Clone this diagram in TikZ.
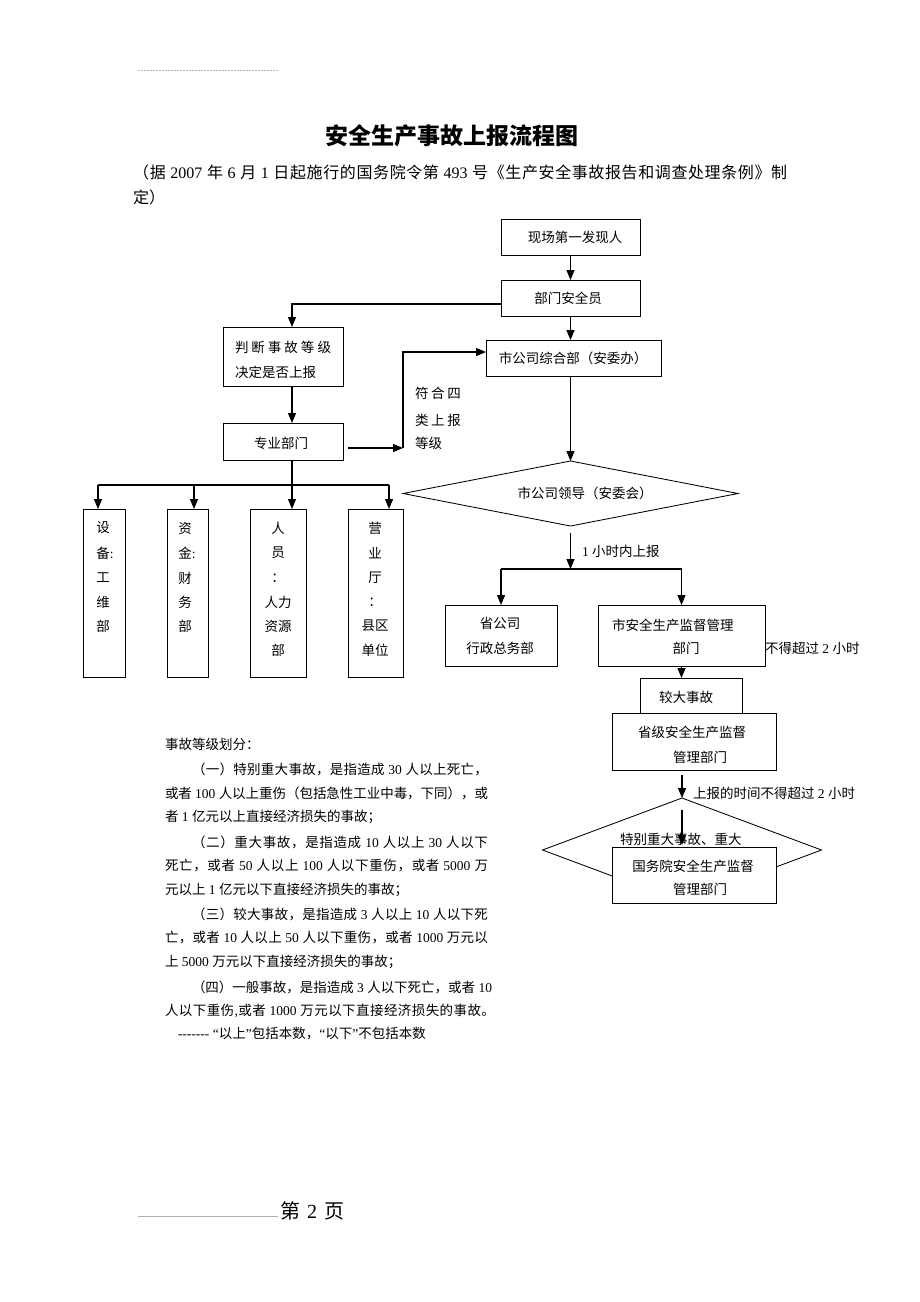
\documentclass[tikz,border=0pt]{standalone}
\usepackage{fontspec}
\setmainfont{Noto Sans CJK SC}
\newfontfamily\lat{Liberation Serif}
\usetikzlibrary{arrows.meta,shapes.geometric}
\def\jsendmark{\jsend}
\def\jspread#1#2\jsend{#1\jsA#2\jsend}
\def\jsA#1{\def\jsarg{#1}\ifx\jsarg\jsendmark\else\hskip0pt plus 1fil minus 1pt#1\expandafter\jsA\fi}
\newcommand\dg[1]{{\lat\ #1\ }}
\tikzset{
  bx/.style={draw,line width=0.85pt,inner sep=0pt,outer sep=0pt,fill=white},
  ln/.style={line width=1.2pt},
  arr/.style={line width=1.2pt,-{Triangle[length=10pt,width=8pt]}},
  tx/.style={inner sep=0pt,outer sep=0pt,font=\fontsize{13.5}{16}\selectfont},
  txw/.style={tx,anchor=west},
  dm/.style={draw,diamond,line width=0.85pt,inner sep=0pt,outer sep=0pt},
}
\newcommand\jl[5]{\node[txw] (#1) at (#2,#3) {\makebox[#4pt][s]{\jspread#5\jsend}};}
\begin{document}
\begin{tikzpicture}[x=1pt,y=-1pt]
\useasboundingbox (0,0) rectangle (920,1302);
\fill[white] (0,0) rectangle (920,1302);
% header
\coordinate (h1) at (138,70); \coordinate (h2) at (278,70);
\draw[gray!60,line width=0.6pt,dash pattern=on 2pt off 1pt] (h1) -- (h2);
% title
\node[inner sep=0pt] (title) at (452,136) {\fontsize{23}{23}\selectfont\bfseries 安全生产事故上报流程图};
\node[inner sep=0pt,anchor=west] (sub1) at (133,172) {\fontsize{16}{16}\selectfont\makebox[654pt][s]{\jspread（据{\dg{2007}}年{\dg{6}}月{\dg{1}}日起施行的国务院令第{\dg{493}}号《生产安全事故报告和调查处理条例》制\jsend}};
\node[inner sep=0pt,anchor=west] (sub2) at (133,197) {\fontsize{16}{16}\selectfont 定）};

% boxes
\node[bx,minimum width=139pt,minimum height=36pt] (b1) at (570.5,237) {};
\node[tx] (b1t) at (575,237) {现场第一发现人};
\node[bx,minimum width=139pt,minimum height=36pt] (b2) at (570.5,298) {};
\node[tx] (b2t) at (568,298) {部门安全员};
\node[bx,minimum width=175pt,minimum height=36pt] (b3) at (573.5,358) {};
\node[tx] (b3t) at (573,358) {市公司综合部（安委办）};
\node[bx,minimum width=120pt,minimum height=59pt] (b4) at (283,356.5) {};
\node[txw] (b4t1) at (235,347) {\makebox[96pt][s]{判\hfil 断\hfil 事\hfil 故\hfil 等\hfil 级}};
\node[txw] (b4t2) at (235,372) {决定是否上报};
\node[bx,minimum width=120pt,minimum height=37pt] (b5) at (283,441.5) {};
\node[tx] (b5t) at (281,443) {专业部门};

% labels between
\node[txw] (f1) at (415,393) {\makebox[46pt][s]{符\hfil 合\hfil 四}};
\node[txw] (f2) at (415,420) {\makebox[46pt][s]{类\hfil 上\hfil 报}};
\node[txw] (f3) at (415,443) {等级};

% diamond 1
\node[dm,minimum width=335pt,minimum height=65pt] (d1) at (570.5,493.5) {};
\node[tx] (d1t) at (585,493) {市公司领导（安委会）};

% columns
\node[bx,minimum width=42pt,minimum height=168pt] (c1) at (104,593) {};
\node[bx,minimum width=41pt,minimum height=168pt] (c2) at (187.5,593) {};
\node[bx,minimum width=56pt,minimum height=168pt] (c3) at (278,593) {};
\node[bx,minimum width=55pt,minimum height=168pt] (c4) at (375.5,593) {};
\node[tx] (c1a) at (103,528) {设};
\node[txw] (c1b) at (96.25,553) {备{\lat :}};
\node[tx] (c1c) at (103,578) {工};
\node[tx] (c1d) at (103,602) {维};
\node[tx] (c1e) at (103,626) {部};
\node[tx] (c2a) at (185,528) {资};
\node[txw] (c2b) at (178.25,553) {金{\lat :}};
\node[tx] (c2c) at (185,578) {财};
\node[tx] (c2d) at (185,602) {务};
\node[tx] (c2e) at (185,626) {部};
\node[tx] (c3a) at (278,528) {人};
\node[tx] (c3b) at (278,553) {员};
\node[tx] (c3c) at (278,578) {：};
\node[tx] (c3d) at (278,602) {人力};
\node[tx] (c3e) at (278,626) {资源};
\node[tx] (c3f) at (278,650) {部};
\node[tx] (c4a) at (375,528) {营};
\node[tx] (c4b) at (375,553) {业};
\node[tx] (c4c) at (375,578) {厅};
\node[tx] (c4d) at (375,602) {：};
\node[tx] (c4e) at (375,626) {县区};
\node[tx] (c4f) at (375,650) {单位};

% right lower boxes
\node[bx,minimum width=112pt,minimum height=61pt] (b6) at (501,635.5) {};
\node[tx] (b6t1) at (500,623) {省公司};
\node[tx] (b6t2) at (500,648) {行政总务部};
\node[bx,minimum width=167pt,minimum height=61pt] (b7) at (681.5,635.5) {};
\node[txw] (b7t1) at (612,625) {市安全生产监督管理};
\node[tx] (b7t2) at (686,648) {部门};
\node[txw] (lab2h) at (765,648) {不得超过{\lat\ 2\ }小时};
\node[txw] (lab1h) at (582,551) {{\lat 1\ }小时内上报};
\node[bx,minimum width=102pt,minimum height=35pt] (b8) at (691,695.5) {};
\node[tx] (b8t) at (686,697) {较大事故};
\node[bx,minimum width=164pt,minimum height=57pt] (b9) at (694,741.5) {};
\node[tx] (b9t1) at (692,732) {省级安全生产监督};
\node[tx] (b9t2) at (700,757) {管理部门};
\node[txw] (lab3) at (693,793) {上报的时间不得超过{\lat\ 2\ }小时};

% diamond 2
\node[dm,minimum width=279pt,minimum height=104pt] (d2) at (682,850) {};
\node[txw] (d2t) at (620,839) {特别重大事故、重大};

% coordinates
\coordinate (s1) at (348,448);
\coordinate (j1) at (403,448);
\coordinate (a1) at (98,485);
\coordinate (a2) at (194,485);
\coordinate (a3) at (292,485);
\coordinate (a4) at (389,485);
\coordinate (t1) at (570.5,533);
\coordinate (j2) at (570.5,569);
\coordinate (t2) at (682,775);
\coordinate (t3) at (682,810);

% connectors
\draw[arr] (b1.south) -- (b2.north);
\draw[arr] (b2.south) -- (b2.south |- b3.north);
\draw[arr] ([yshift=-6pt]b2.west) -| ([xshift=9pt]b4.north);
\draw[arr] ([xshift=9pt]b4.south) -- ([xshift=9pt]b5.north);
\draw[arr] (s1) -- (j1);
\draw[arr] (j1) |- ([yshift=6pt]b3.west);
\draw[arr] (d1.north |- b3.south) -- (d1.north);
\draw[ln] (a1) -- (a4);
\draw[arr] ([xshift=9pt]b5.south) -- (a3 |- c3.north);
\draw[arr] (a1) -- (a1 |- c1.north);
\draw[arr] (a2) -- (a2 |- c2.north);
\draw[arr] (a4) -- (a4 |- c4.north);
\draw[arr] (t1) -- (j2);
\draw[ln] (j2 -| b6.north) -- (j2 -| b7.north);
\draw[arr] (j2 -| b6.north) -- (b6.north);
\draw[arr] (j2 -| b7.north) -- (b7.north);
\draw[arr] (b7.south) -- (b7.south |- b8.north);
\draw[arr] (t2) -- (d2.north);

% bottom box
\node[bx,minimum width=164pt,minimum height=56pt] (b10) at (694,875) {};
\node[tx] (b10t1) at (693,866) {国务院安全生产监督};
\node[tx] (b10t2) at (700,889) {管理部门};
\draw[arr] (t3) -- ([yshift=2pt]t3 |- b10.north);

% text block
\node[txw] (p1) at (165,744) {事故等级划分：};
\jl{p2}{192}{769}{296}{（一）特别重大事故，是指造成{\dg{30}}人以上死亡，}
\jl{p3}{165}{793}{323}{或者{\dg{100}}人以上重伤（包括急性工业中毒，下同），或}
\node[txw] (p4) at (165,817) {者{\lat\ 1\ }亿元以上直接经济损失的事故；};
\jl{p5}{192}{842}{296}{（二）重大事故，是指造成{\dg{10}}人以上{\dg{30}}人以下}
\jl{p6}{165}{866}{323}{死亡，或者{\dg{50}}人以上{\dg{100}}人以下重伤，或者{\dg{5000}}万}
\node[txw] (p7) at (165,890) {元以上{\lat\ 1\ }亿元以下直接经济损失的事故；};
\jl{p8}{192}{914}{296}{（三）较大事故，是指造成{\dg{3}}人以上{\dg{10}}人以下死}
\jl{p9}{165}{938}{323}{亡，或者{\dg{10}}人以上{\dg{50}}人以下重伤，或者{\dg{1000}}万元以}
\node[txw] (p10) at (165,962) {上{\lat\ 5000\ }万元以下直接经济损失的事故；};
\jl{p11}{192}{987}{300}{（四）一般事故，是指造成{\dg{3}}人以下死亡，或者{{\lat\ 10}}}
\jl{p12}{165}{1011}{330}{人以下重伤{{\lat ,}}或者{\dg{1000}}万元以下直接经济损失的事故。}
\node[txw] (p13) at (178,1034) {{\lat -------\ “}以上{\lat ”}包括本数，{\lat “}以下{\lat ”}不包括本数};

% footer
\coordinate (g1) at (138,1216); \coordinate (g2) at (278,1216);
\draw[gray!60,line width=0.5pt] (g1) -- (g2);
\node[inner sep=0pt,anchor=west] (foot) at (280,1211) {\fontsize{20}{20}\selectfont 第\hspace{7pt}{\lat 2}\hspace{7pt}页};
\end{tikzpicture}
\end{document}
